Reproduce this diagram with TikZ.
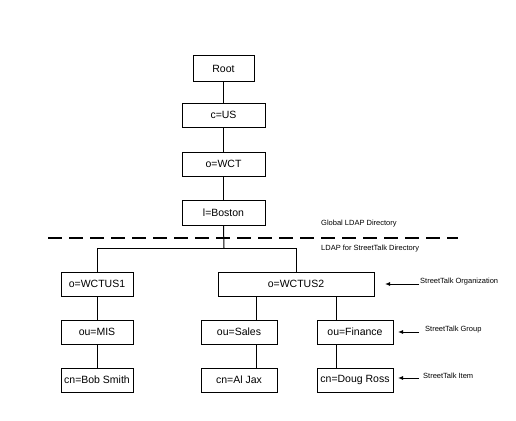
\documentclass[tikz,border=0pt]{standalone}
\usepackage{fontspec}
\setmainfont{Liberation Sans}
\usetikzlibrary{arrows.meta}
\begin{document}
\begin{tikzpicture}[x=1pt,y=-1pt,
  box/.style={draw,line width=1pt,inner sep=0pt,minimum height=24pt,font=\fontsize{10.5}{12}\selectfont},
  conn/.style={line width=1pt},
  note/.style={anchor=west,inner sep=0pt,font=\fontsize{7.5}{9}\selectfont},
  pointer/.style={line width=1pt,-{Latex[length=5pt,width=4pt]}}]
\fill[white] (0,0) rectangle (516,420);
\useasboundingbox (0,0) rectangle (516,420);
% top chain
\node[box,minimum width=61pt,minimum height=25pt] (root) at (223.5,68.5) {Root};
\node[box,minimum width=83pt] (cus) at (223.5,115) {c=US};
\node[box,minimum width=83pt] (owct) at (223.5,164) {o=WCT};
\node[box,minimum width=83pt,minimum height=25pt] (boston) at (223.5,212.5) {l=Boston};
% left subtree
\node[box,minimum width=72pt] (wctus1) at (97,284) {o=WCTUS1};
\node[box,minimum width=72pt] (mis) at (97,332) {ou=MIS};
\node[box,minimum width=72pt] (bob) at (97,380) {cn=Bob Smith};
% right subtree
\node[box,minimum width=156pt] (wctus2) at (296,284) {o=WCTUS2};
\node[box,minimum width=76pt] (sales) at (239,332) {ou=Sales};
\node[box,minimum width=76pt] (aljax) at (239,380) {cn=Al Jax};
\node[box,minimum width=76pt] (finance) at (355,332) {ou=Finance};
\node[box,minimum width=76pt] (doug) at (355,380) {cn=Doug Ross};
% connectors
\draw[conn] (root) -- (cus);
\draw[conn] (cus) -- (owct);
\draw[conn] (owct) -- (boston);
\coordinate (bus) at (224,248);
\draw[conn] (boston.south) -- (bus);
\draw[conn] (bus) -| (wctus1.north);
\draw[conn] (bus) -| (wctus2.north);
\draw[conn] (wctus1) -- (mis);
\draw[conn] (mis) -- (bob);
\draw[conn] ([xshift=-40pt]wctus2.south) -- ([xshift=-40pt]wctus2.south |- sales.north);
\draw[conn] ([xshift=17pt]sales.south) -- ([xshift=17pt]aljax.north);
\draw[conn] ([xshift=40pt]wctus2.south) -- ([xshift=40pt]wctus2.south |- finance.north);
\draw[conn] ([xshift=-19pt]finance.south) -- ([xshift=-19pt]doug.north);
% dashed divider
\coordinate (dl) at (48,238);
\coordinate (dr) at (458,238);
\draw[line width=2.5pt,dash pattern=on 14pt off 7pt] (dl) -- (dr);
\node[note] (glob) at (321,224) {Global LDAP Directory};
\node[note] (stld) at (321,249) {LDAP for StreetTalk Directory};
% side labels
\node[note] (lorg) at (420,282) {StreetTalk Organization};
\node[note] (lgrp) at (425,330) {StreetTalk Group};
\node[note] (litem) at (423,376) {StreetTalk Item};
\coordinate (a1s) at (419,284); \coordinate (a1e) at (385,284);
\coordinate (a2s) at (419,332); \coordinate (a2e) at (398,332);
\coordinate (a3s) at (419,378); \coordinate (a3e) at (398,378);
\draw[pointer] (a1s) -- (a1e);
\draw[pointer] (a2s) -- (a2e);
\draw[pointer] (a3s) -- (a3e);
\end{tikzpicture}
\end{document}
